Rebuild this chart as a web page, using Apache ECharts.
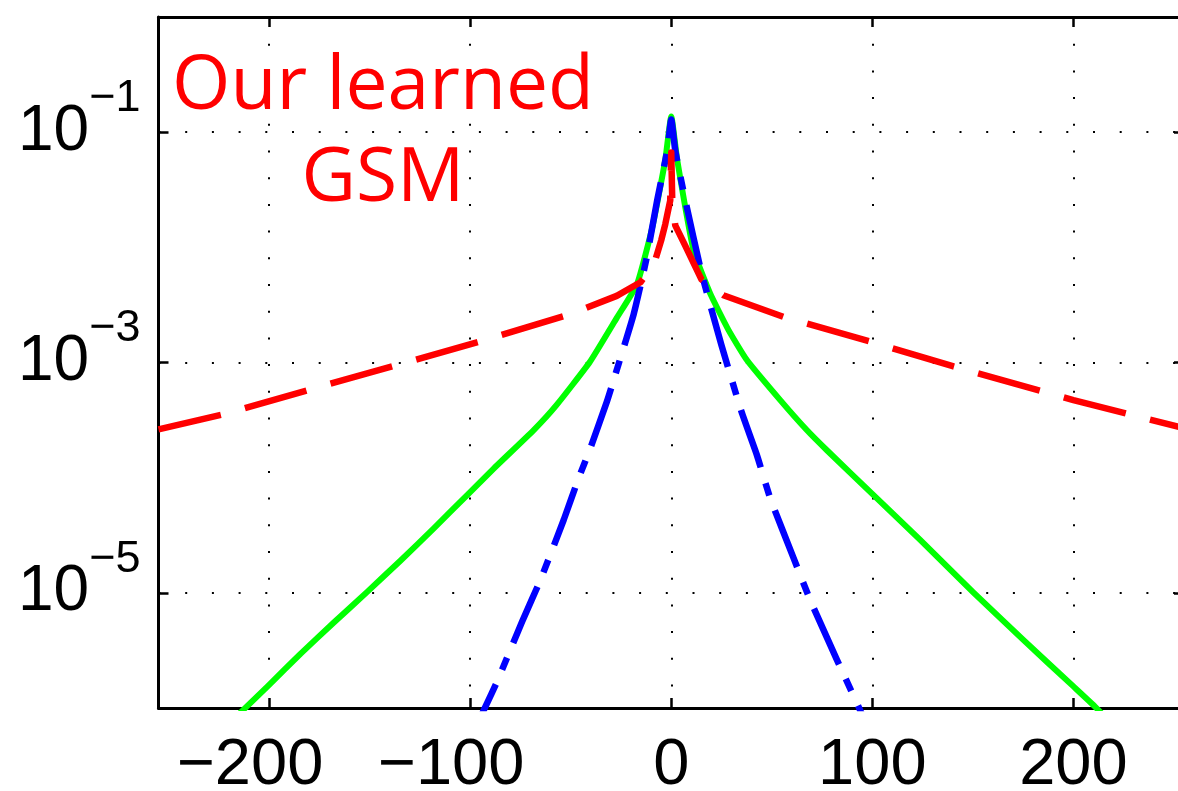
<!DOCTYPE html>
<html><head><meta charset="utf-8">
<script src="https://cdn.jsdelivr.net/npm/echarts@6/dist/echarts.min.js"></script>
<style>html,body{margin:0;padding:0;background:#fff}#c{width:1178px;height:791px}</style>
</head><body><div id="c"></div>
<script>
// ---- data ----
const xTickValues = [-200, -100, 0, 100, 200];
const xTickLabels = ['−200', '−100', '0', '100', '200'];
const yTickValues = [1e-1, 1e-3, 1e-5];
const yTickExponents = ['−1', '−3', '−5'];
const annotationLines = ['Our learned', 'GSM'];

// green solid curve
const greenX = [-230, -210.9, -200.1, -184.4, -167.8, -151.2, -134.7, -118.1, -101.5, -88.3, -68.4, -57.3, -40.5, -27.1, -17, -9.4, -3, 0, 3, 11.1, 19.4, 28.5, 37.6, 54.2, 67.4, 77.4, 99.7, 123.8, 150.2, 175.1, 200, 210.7, 225];
const greenY = [4.9e-7, 1.04e-6, 1.58e-6, 2.95e-6, 5.52e-6, 1.02e-5, 1.90e-5, 3.63e-5, 7.06e-5, 1.20e-4, 2.59e-4, 4.22e-4, 1.01e-3, 2.44e-3, 4.80e-3, 1.50e-2, 5.69e-2, 0.137, 5.69e-2, 9.42e-3, 3.96e-3, 1.91e-3, 1.05e-3, 4.71e-4, 2.59e-4, 1.73e-4, 7.31e-5, 2.88e-5, 1.01e-5, 3.90e-6, 1.54e-6, 1.03e-6, 5.64e-7];

// blue dash-dot curve
const blueX = [-100, -92.4, -86.6, -74.2, -65.1, -53.5, -46.1, -40.5, -32.1, -27.9, -18.7, -12.5, -7, -2, 0, 2, 7, 15, 25, 35, 42.6, 49.2, 60.8, 69.1, 82.4, 93.1, 100];
const blueY = [5.30e-7, 1.03e-6, 1.70e-6, 5.62e-6, 1.29e-5, 4.29e-5, 9.86e-5, 1.75e-4, 4.53e-4, 7.76e-4, 2.62e-3, 7.71e-3, 2.56e-2, 6.93e-2, 0.129, 6.93e-2, 2.56e-2, 6.07e-3, 1.41e-3, 3.71e-4, 1.57e-4, 6.65e-5, 2.01e-5, 8.67e-6, 2.62e-6, 1.03e-6, 5.52e-7];

// red dashed curve ("Our learned GSM")
const redX = [-255, -223.7, -180, -138, -94.3, -50.6, -27.1, -15.3, -11, -8, -5, -3, -0.5, 0, 0.5, 2, 7, 15, 25.9, 55.8, 100, 140, 200, 255];
const redY = [2.63e-4, 3.52e-4, 5.80e-4, 9.35e-4, 1.54e-3, 2.61e-3, 3.79e-3, 4.97e-3, 6.32e-3, 7.71e-3, 1.15e-2, 1.58e-2, 2.56e-2, 6.67e-2, 2.56e-2, 1.55e-2, 1.03e-2, 5.27e-3, 3.84e-3, 2.49e-3, 1.50e-3, 9.29e-4, 4.71e-4, 2.69e-4];

function pairs(xs, ys) { return xs.map(function (x, i) { return [x, ys[i]]; }); }

const chart = echarts.init(document.getElementById('c'), null, { renderer: 'canvas' });

const axisLineStyle = { show: true, onZero: false, lineStyle: { color: '#000', width: 3 } };
const tickStyle = { show: true, inside: true, length: 10, lineStyle: { color: '#000', width: 2.5 } };
const gridDots = { type: [2, 24.7], color: '#000', width: 2 };

function fmtX(value) {
  const i = xTickValues.indexOf(value);
  if (i < 0) return '';
  const s = xTickLabels[i];
  if (s.charAt(0) === '−') return s + '{g|−}';
  return s;
}
function fmtY(value) {
  const i = yTickValues.findIndex(function (v) { return Math.abs(Math.log10(v) - Math.log10(value)) < 1e-6; });
  if (i < 0) return '';
  return '{b|10}{s|' + yTickExponents[i] + '}';
}

const option = {
  animation: false,
  backgroundColor: '#fff',
  grid: { left: 158.5, right: -6, top: 17, bottom: 83, containLabel: false, outerBoundsMode: 'none' },
  xAxis: [
    {
      type: 'value', min: -255, max: 255, position: 'bottom',
      axisLine: axisLineStyle,
      axisTick: Object.assign({}, tickStyle, { customValues: xTickValues }),
      axisLabel: {
        customValues: xTickValues, formatter: fmtX, margin: 26,
        fontSize: 65, lineHeight: 65, fontFamily: 'Liberation Sans', color: '#000',
        rich: { g: { fontSize: 65, lineHeight: 65, fontFamily: 'Liberation Sans', color: 'rgba(0,0,0,0)' } }
      },
      splitLine: { show: true, lineStyle: gridDots }
    },
    {
      type: 'value', min: -255, max: 255, position: 'top',
      axisLine: axisLineStyle,
      axisTick: Object.assign({}, tickStyle, { customValues: xTickValues }),
      axisLabel: { show: false },
      splitLine: { show: false }
    }
  ],
  yAxis: [
    {
      type: 'log', logBase: 10, min: 1e-6, max: 1, position: 'left',
      axisLine: axisLineStyle,
      axisTick: Object.assign({}, tickStyle, { customValues: yTickValues }),
      axisLabel: {
        customValues: yTickValues, formatter: fmtY, margin: 18, color: '#000',
        fontFamily: 'Liberation Sans',
        rich: {
          b: { fontSize: 64, lineHeight: 112, fontFamily: 'Liberation Sans', color: '#000' },
          s: { fontSize: 45, lineHeight: 45, verticalAlign: 'top', fontFamily: 'Liberation Sans', color: '#000' }
        }
      },
      splitLine: { show: true, lineStyle: gridDots }
    },
    {
      type: 'log', logBase: 10, min: 1e-6, max: 1, position: 'right',
      axisLine: axisLineStyle,
      axisTick: Object.assign({}, tickStyle, { customValues: yTickValues }),
      axisLabel: { show: false },
      splitLine: { show: false }
    }
  ],
  graphic: [{
    type: 'text', x: 383, y: 42, z: 100, silent: true,
    style: {
      text: annotationLines.join('\n'), fill: '#ff0000',
      fontSize: 75, fontFamily: 'Open Sans', lineHeight: 92,
      align: 'center', verticalAlign: 'top', textAlign: 'center', textVerticalAlign: 'top'
    }
  }],
  series: [
    { type: 'line', name: 'green', data: pairs(greenX, greenY), showSymbol: false, symbol: 'none', silent: true, z: 2,
      smooth: 0.15,
      lineStyle: { color: '#00ff00', width: 6, cap: 'butt', join: 'round' } },
    { type: 'line', name: 'blue', data: pairs(blueX, blueY), showSymbol: false, symbol: 'none', silent: true, z: 3,
      smooth: 0.15,
      lineStyle: { color: '#0000ff', width: 6.5, type: [61, 16, 13, 16], cap: 'butt', join: 'round' } },
    { type: 'line', name: 'red', data: pairs(redX, redY), showSymbol: false, symbol: 'none', silent: true, z: 4,
      lineStyle: { color: '#ff0000', width: 6.5, type: [64, 25], cap: 'butt', join: 'round' } }
  ]
};
chart.setOption(option);
</script>
</body></html>
